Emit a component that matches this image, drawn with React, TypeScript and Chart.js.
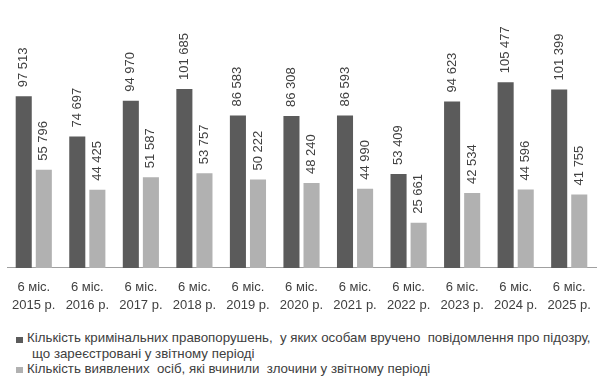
import React, { useEffect, useRef } from "react";
import { Chart, registerables } from "chart.js";

Chart.register(...registerables);

const periods = ["6 міс.", "6 міс.", "6 міс.", "6 міс.", "6 міс.", "6 міс.", "6 міс.", "6 міс.", "6 міс.", "6 міс.", "6 міс."];
const years = ["2015 р.", "2016 р.", "2017 р.", "2018 р.", "2019 р.", "2020 р.", "2021 р.", "2022 р.", "2023 р.", "2024 р.", "2025 р."];
const offences = [97513, 74697, 94970, 101685, 86583, 86308, 86593, 53409, 94623, 105477, 101399];
const persons = [55796, 44425, 51587, 53757, 50222, 48240, 44990, 25661, 42534, 44596, 41755];
const legendOffences1 = "Кількість кримінальних правопорушень,  у яких особам вручено  повідомлення про підозру,";
const legendOffences2 = "що зареєстровані у звітному періоді";
const legendPersons = "Кількість виявлених  осіб, які вчинили  злочини у звітному періоді";

const DARK = "#5b5b5b";
const LIGHT = "#b1b1b1";
const TEXT = "#404040";
const FONT = "'Liberation Sans', Arial, sans-serif";

const fmt = (v: number) => String(v).replace(/\B(?=(\d{3})+(?!\d))/g, " ");

const valueLabels = {
  id: "valueLabels",
  afterDatasetsDraw(chart: any) {
    const ctx = chart.ctx;
    ctx.save();
    ctx.font = `13px ${FONT}`;
    ctx.fillStyle = TEXT;
    ctx.textAlign = "left";
    ctx.textBaseline = "middle";
    chart.data.datasets.forEach((ds: any, di: number) => {
      const meta = chart.getDatasetMeta(di);
      meta.data.forEach((el: any, i: number) => {
        ctx.save();
        ctx.translate(el.x, el.y - 9);
        ctx.rotate(-Math.PI / 2);
        ctx.fillText(fmt(ds.data[i]), 0, 0);
        ctx.restore();
      });
    });
    ctx.restore();
  },
};

export default function App() {
  const ref = useRef<HTMLCanvasElement>(null);
  useEffect(() => {
    document.body.style.margin = "0";
    const chart = new Chart(ref.current!, {
      type: "bar",
      data: {
        labels: periods.map((p, i) => [p, years[i]]),
        datasets: [
          { label: legendOffences1 + " " + legendOffences2, data: offences, backgroundColor: DARK, barPercentage: 0.8, categoryPercentage: 0.75 },
          { label: legendPersons, data: persons, backgroundColor: LIGHT, barPercentage: 0.8, categoryPercentage: 0.75 },
        ],
      },
      options: {
        animation: false,
        responsive: false,
        maintainAspectRatio: false,
        layout: { padding: { top: 4, left: 7, right: 9, bottom: 0 } },
        plugins: { legend: { display: false }, tooltip: { enabled: false } },
        scales: {
          x: {
            grid: { display: false, drawTicks: false },
            border: { display: true, color: "#a0a0a0", width: 1 },
            ticks: {
              color: TEXT,
              font: { family: FONT, size: 13, lineHeight: 1.35 },
              padding: 11,
              maxRotation: 0,
              autoSkip: false,
            },
          },
          y: {
            display: false,
            min: 0,
            max: 150000,
          },
        },
      },
      plugins: [valueLabels],
    });
    return () => chart.destroy();
  }, []);

  const lineStyle: React.CSSProperties = {
    position: "absolute",
    whiteSpace: "pre",
    font: `13.3px ${FONT}`,
    color: TEXT,
    lineHeight: "15.5px",
  };
  const sq = (c: string, top: number): React.CSSProperties => ({
    position: "absolute",
    left: 16,
    top,
    width: 7,
    height: 6,
    background: c,
  });

  return (
    <div style={{ position: "relative", width: 605, height: 389, background: "#fff", overflow: "hidden" }}>
      <canvas ref={ref} width={605} height={325} style={{ position: "absolute", left: 0, top: 0 }} />
      <div style={sq(DARK, 337)} />
      <div style={{ ...lineStyle, left: 27, top: 330 }}>{legendOffences1}</div>
      <div style={{ ...lineStyle, left: 32, top: 346 }}>{legendOffences2}</div>
      <div style={sq(LIGHT, 367)} />
      <div style={{ ...lineStyle, left: 27, top: 361 }}>{legendPersons}</div>
    </div>
  );
}
